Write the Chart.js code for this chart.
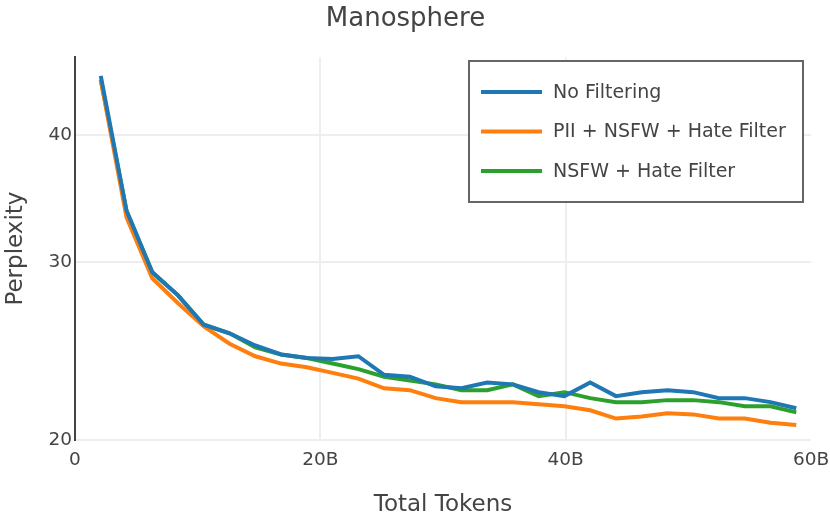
<!DOCTYPE html>
<html>
<head>
<meta charset="utf-8">
<script src="https://cdn.jsdelivr.net/npm/chart.js@4.4.1/dist/chart.umd.min.js"></script>
<style>
  html, body { margin: 0; padding: 0; background: #fff; }
  #wrap { width: 830px; height: 520px; }
</style>
</head>
<body>
<div id="wrap"><canvas id="myChart" width="830" height="520"></canvas></div>
<script>
// Data (token dalam miliar)
const tokens = [2.1, 4.2, 6.3, 8.4, 10.5, 12.6, 14.7, 16.8, 18.9, 21.0, 23.1, 25.2, 27.3, 29.4,
                31.5, 33.6, 35.7, 37.8, 39.9, 42.0, 44.1, 46.2, 48.3, 50.4, 52.5, 54.6, 56.7, 58.8];
const noFiltering = [45.8, 33.7, 29.3, 27.8, 26.0, 25.5, 24.8, 24.3, 24.1, 24.05, 24.2, 23.2, 23.1, 22.6,
                     22.5, 22.8, 22.7, 22.3, 22.1, 22.8, 22.1, 22.3, 22.4, 22.3, 22.0, 22.0, 21.8, 21.5];
const piiNsfwHate = [45.4, 33.2, 28.9, 27.3, 25.9, 24.9, 24.2, 23.8, 23.6, 23.3, 23.0, 22.5, 22.4, 22.0,
                     21.8, 21.8, 21.8, 21.7, 21.6, 21.4, 21.0, 21.1, 21.25, 21.2, 21.0, 21.0, 20.8, 20.7];
const nsfwHate = [45.4, 33.7, 29.3, 27.8, 26.0, 25.5, 24.7, 24.3, 24.1, 23.8, 23.5, 23.1, 22.9, 22.7,
                  22.4, 22.4, 22.7, 22.1, 22.3, 22.0, 21.8, 21.8, 21.9, 21.9, 21.8, 21.6, 21.6, 21.3];
const seriesNames = ['No Filtering', 'PII + NSFW + Hate Filter', 'NSFW + Hate Filter'];
const seriesColors = ['#1f77b4', '#ff7f0e', '#2ca02c'];
const yTicks = [20, 30, 40];
const xTicks = [0, 20, 40, 60];

const FONT = "'DejaVu Sans', Verdana, sans-serif";
const TEXT = '#444';

function toPoints(arr) {
    return arr.map((v, i) => ({ x: tokens[i], y: v }));
}

// Legenda kotak di pojok kanan atas
const boxLegend = {
    id: 'boxLegend',
    afterDraw(chart) {
        const ctx = chart.ctx;
        const x = 469, y = 61, w = 334, h = 141;
        ctx.save();
        ctx.fillStyle = '#fff';
        ctx.fillRect(x, y, w, h);
        ctx.strokeStyle = '#666';
        ctx.lineWidth = 2;
        ctx.strokeRect(x, y, w, h);
        ctx.font = '19px ' + FONT;
        ctx.textBaseline = 'middle';
        chart.data.datasets.forEach((ds, i) => {
            const cy = y + 31 + i * 39.5;
            ctx.strokeStyle = ds.borderColor;
            ctx.lineWidth = 4;
            ctx.beginPath();
            ctx.moveTo(x + 12, cy);
            ctx.lineTo(x + 73, cy);
            ctx.stroke();
            ctx.fillStyle = TEXT;
            ctx.fillText(ds.label, x + 84, cy + 1);
        });
        ctx.restore();
    }
};

const ctx = document.getElementById('myChart').getContext('2d');
new Chart(ctx, {
    type: 'line',
    data: {
        datasets: [noFiltering, piiNsfwHate, nsfwHate].map((arr, i) => ({
            label: seriesNames[i],
            data: toPoints(arr),
            borderColor: seriesColors[i],
            backgroundColor: seriesColors[i],
            borderWidth: 4,
            pointRadius: 0,
            tension: 0,
            fill: false
        }))
    },
    options: {
        responsive: false,
        animation: false,
        layout: { padding: { left: 0, right: 19, top: 0, bottom: 0 } },
        plugins: {
            legend: { display: false },
            tooltip: { enabled: false },
            title: {
                display: true,
                text: 'Manosphere',
                color: TEXT,
                font: { family: FONT, size: 26, weight: 'normal' },
                padding: { top: 4, bottom: 22 }
            }
        },
        scales: {
            x: {
                type: 'linear',
                min: 0,
                max: 60,
                afterFit(scale) {
                    scale.height = 80;
                    scale.paddingRight = 0;
                    scale.paddingLeft = 0;
                },
                afterBuildTicks(scale) { scale.ticks = xTicks.map(v => ({ value: v })); },
                ticks: {
                    color: TEXT,
                    padding: 9,
                    maxRotation: 0,
                    autoSkip: false,
                    font: { family: FONT, size: 18.5 },
                    callback: v => v === 0 ? '0' : v + 'B'
                },
                grid: {
                    drawTicks: false,
                    lineWidth: 2,
                    color: c => (c.tick && (c.tick.value === 20 || c.tick.value === 40)) ? '#eeeeee' : 'rgba(0,0,0,0)'
                },
                border: { display: false },
                title: {
                    display: true,
                    text: 'Total Tokens',
                    color: TEXT,
                    font: { family: FONT, size: 23 },
                    padding: { top: 0, bottom: 1 }
                }
            },
            y: {
                type: 'logarithmic',
                min: 20,
                max: 47.8,
                afterFit(scale) {
                    scale.width = 75;
                    scale.paddingTop = 0;
                    scale.paddingBottom = 0;
                },
                afterBuildTicks(scale) { scale.ticks = yTicks.map(v => ({ value: v })); },
                ticks: {
                    color: TEXT,
                    padding: 3,
                    font: { family: FONT, size: 18.5 },
                    callback: v => String(v)
                },
                grid: {
                    drawTicks: false,
                    lineWidth: 2,
                    color: '#eeeeee'
                },
                border: { display: true, color: '#444', width: 2 },
                title: {
                    display: true,
                    text: 'Perplexity',
                    color: TEXT,
                    font: { family: FONT, size: 23 },
                    padding: { top: 2, bottom: 0 }
                }
            }
        }
    },
    plugins: [boxLegend]
});
</script>
</body>
</html>
